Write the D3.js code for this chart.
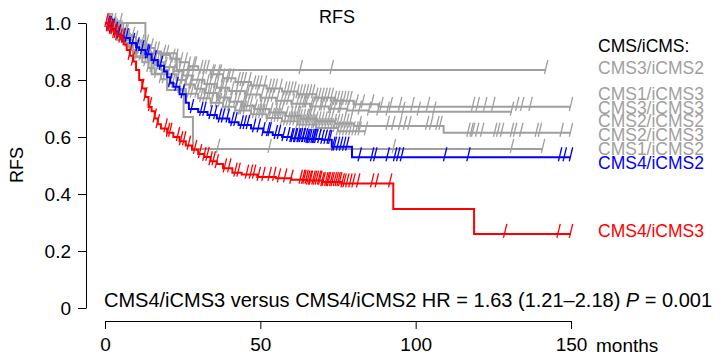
<!DOCTYPE html>
<html><head><meta charset="utf-8">
<script src="https://cdn.jsdelivr.net/npm/d3@7"></script>
<style>body{margin:0;background:#fff}svg{display:block;font-family:"Liberation Sans",Arial,sans-serif}</style>
</head><body><svg id="c" width="723" height="360"></svg>
<script>
// ---- data (months, survival) ----
const groups = ["CMS3/iCMS2","CMS1/iCMS3","CMS3/iCMS3","CMS2/iCMS2","CMS2/iCMS3","CMS1/iCMS2","CMS4/iCMS2","CMS4/iCMS3"];
const xTicks = [0, 50, 100, 150];
const yTicks = [0, 0.2, 0.4, 0.6, 0.8, 1.0];

const g1_t = [0, 13.0, 23.1];
const g1_s = [1.0, 0.894, 0.835];
const g1_end = 142;
const g1_c = [1, 2, 3, 5, 63, 73, 142];

const g2_t = [0, 2, 4, 6, 8, 10, 12, 14, 16, 18, 21, 24, 27, 30, 34, 38, 42, 47, 52, 57, 62, 68, 74, 80, 88];
const g2_s = [1.0, 0.988, 0.976, 0.963, 0.951, 0.938, 0.925, 0.912, 0.9, 0.888, 0.875, 0.862, 0.848, 0.835, 0.82, 0.806, 0.793, 0.781, 0.77, 0.76, 0.75, 0.738, 0.727, 0.715, 0.706];
const g2_end = 150;
const g2_c = [1.5, 3, 4, 5, 6.5, 7, 9, 10, 12, 13.5, 15, 16, 17, 19, 20, 22, 23, 24.5, 26, 27, 28.5, 29, 31, 32, 33, 34.5, 35, 36.5, 37, 38, 39.5, 40, 41, 43, 44, 45, 46.5, 48, 49, 50, 51.5, 53, 54, 55, 56.5, 58, 59, 60, 61, 62, 63, 64, 65, 66, 67, 68, 69, 70, 71, 72, 73, 74, 75, 76, 77, 78, 79, 81, 83, 86, 89, 92, 95, 99, 104, 118.5, 120, 122.4, 125, 132.7, 134.3, 137, 150];

const g3_t = [0, 2, 4, 6, 8, 10, 12, 14, 16, 19, 22, 25, 28, 32, 36, 40, 45, 50, 55, 60, 66, 72, 78, 85];
const g3_s = [1.0, 0.98, 0.962, 0.944, 0.926, 0.908, 0.892, 0.877, 0.862, 0.846, 0.831, 0.816, 0.801, 0.786, 0.773, 0.761, 0.749, 0.738, 0.727, 0.717, 0.707, 0.699, 0.693, 0.689];
const g3_end = 131;
const g3_c = [1, 2, 3.5, 4, 5.5, 6, 8, 9, 11, 12.5, 14, 15.5, 17, 18, 19.5, 21, 22.5, 24, 25, 26.5, 27, 28, 30, 31.5, 33, 34, 35.5, 36, 37.5, 38, 39, 41, 42.5, 44, 45.5, 46, 47, 49, 50.5, 52, 53, 54, 55.5, 57, 58, 59, 60.5, 62, 63, 64, 64.5, 65, 66.5, 67, 68, 69.5, 70, 71, 72.5, 73, 74, 75.5, 76, 78, 80, 82, 85, 88, 91, 96, 101, 106, 131];

const g4_t = [0, 2, 4, 6, 8, 10, 12, 14, 16, 18, 20, 23, 26, 29, 32, 36, 40, 44, 48, 53, 58, 63, 68, 74, 80, 109];
const g4_s = [1.0, 0.985, 0.965, 0.945, 0.925, 0.905, 0.888, 0.868, 0.852, 0.836, 0.82, 0.8, 0.784, 0.769, 0.754, 0.739, 0.724, 0.71, 0.698, 0.686, 0.674, 0.664, 0.655, 0.647, 0.639, 0.615];
const g4_end = 150;
const g4_c = [1, 2, 3, 4.5, 5, 6, 7.5, 8, 10, 11, 12, 13, 14.5, 16, 17.5, 19, 20.5, 22, 23.5, 25, 26, 27.5, 28, 30, 31, 32.5, 34, 35, 36.5, 37, 38.5, 39, 40.5, 42, 43, 44.5, 45, 46, 47, 48.5, 50, 51, 52, 53.5, 55, 56, 57, 58.5, 60, 61, 62, 62.5, 63, 64, 65, 65.5, 66, 67, 68, 69, 70, 71, 72, 73, 74, 75, 76, 77, 78, 79, 82, 91, 92.8, 95, 96.6, 98, 103.7, 105, 107, 108, 117, 118, 118.5, 119.8, 121.4, 125.6, 126.6, 127.8, 131, 132, 134, 139, 140, 147, 150];

const g5_t = [0, 2, 4, 6, 8, 10, 12, 14, 16, 18, 20, 23, 26, 30, 34, 38, 42, 47, 52, 57, 62, 68, 75];
const g5_s = [1.0, 0.978, 0.952, 0.93, 0.905, 0.883, 0.862, 0.842, 0.822, 0.803, 0.787, 0.768, 0.752, 0.736, 0.72, 0.706, 0.693, 0.68, 0.667, 0.655, 0.644, 0.632, 0.62];
const g5_end = 84;
const g5_c = [1, 2, 3, 4, 5.5, 7, 8.5, 10, 11.5, 13, 14, 15, 16.5, 18, 19, 21, 22, 24, 25.5, 27, 28, 29.5, 31, 32, 33, 34.5, 36, 37, 38, 39, 40, 42, 43.5, 44, 45, 47, 48, 49, 50, 51, 52.5, 54, 55, 56, 57, 58, 59, 60, 61, 62, 63, 64, 65, 66, 67, 67.5, 68, 69, 70, 71, 72, 73, 74, 75, 76, 77, 78, 79, 80, 81, 82, 84];

const g6_t = [0, 4, 9, 15, 20, 25.3, 28.3];
const g6_s = [1.0, 0.94, 0.88, 0.82, 0.765, 0.67, 0.558];
const g6_end = 141;
const g6_c = [36.4, 53, 93, 131, 141];

const blue_t = [0, 1, 2, 3, 4, 5, 6, 8, 10, 11, 13, 15, 17, 19, 20, 21, 22, 24, 26, 27, 30, 33, 36, 40, 43, 47, 51, 54, 57, 60, 65, 70, 73, 79.5];
const blue_s = [1.0, 0.99, 0.98, 0.97, 0.96, 0.955, 0.947, 0.93, 0.915, 0.905, 0.89, 0.87, 0.85, 0.83, 0.81, 0.79, 0.776, 0.75, 0.72, 0.698, 0.688, 0.677, 0.665, 0.652, 0.642, 0.63, 0.617, 0.607, 0.6, 0.596, 0.593, 0.59, 0.566, 0.529];
const blue_end = 150;
const blue_c = [1, 1.5, 2, 2.5, 3.5, 4.5, 6, 7, 9, 10.5, 12, 13.5, 14, 16, 18, 21, 23, 25, 28, 31, 32, 34, 35.5, 37, 38, 39.5, 41, 42, 44, 45, 46, 48, 49.5, 51, 52.5, 53, 55, 56, 57.5, 59, 60, 60.4, 61.2, 61.5, 62.3, 62.6, 63.1, 63.8, 64, 64.7, 65.2, 65.6, 66.1, 66.8, 67.3, 67.5, 68, 69, 70, 71, 72, 72.5, 73.5, 74, 75, 76, 77, 78, 82, 86, 87, 91, 93.4, 94.4, 95.6, 109.5, 117, 146.5, 148, 150];

const red_t = [0, 1, 2, 3, 4, 5, 6, 7, 8, 9, 10, 11, 12, 13, 14, 15, 16, 17, 18, 20, 22, 24, 26, 28, 30, 32, 34, 36, 38, 41, 44, 49, 55, 60, 65, 70, 76, 92.8, 118.8];
const red_s = [1.0, 0.985, 0.975, 0.962, 0.955, 0.945, 0.925, 0.905, 0.885, 0.865, 0.835, 0.80, 0.77, 0.74, 0.705, 0.69, 0.665, 0.645, 0.63, 0.615, 0.6, 0.585, 0.57, 0.555, 0.54, 0.53, 0.515, 0.505, 0.49, 0.475, 0.468, 0.46, 0.455, 0.45, 0.447, 0.442, 0.437, 0.347, 0.26];
const red_end = 150;
const red_c = [0.5, 1, 1.5, 2, 2.5, 3, 3.5, 4, 5, 5.8, 8, 9, 12, 13, 14.5, 16, 17, 19.5, 20.3, 21, 23.5, 24.5, 25.5, 27, 29, 30.6, 32, 33, 34, 35, 36, 38.6, 40, 42, 43, 45.7, 47, 48, 49.5, 51, 53, 54.5, 56, 58, 60, 63, 63.8, 64.2, 64.9, 65.4, 66, 66.3, 67.1, 67.6, 68.2, 68.9, 69.3, 70, 70.4, 71.2, 71.7, 72.1, 72.8, 73.3, 74, 74.6, 75.2, 75.7, 76.5, 77.1, 78, 79, 80, 81.5, 86, 87.5, 91.8, 128.8, 146, 150];

const legendLabels = ["CMS3/iCMS2","CMS1/iCMS3","CMS3/iCMS3","CMS2/iCMS2","CMS2/iCMS3","CMS1/iCMS2","CMS4/iCMS2","CMS4/iCMS3"];

// ---- drawing ----
const GRAY = "#9f9f9f", BLUE = "#0000ff", RED = "#ff0000";
const series = [
  {t:g1_t, s:g1_s, end:g1_end, c:g1_c, col:GRAY},
  {t:g6_t, s:g6_s, end:g6_end, c:g6_c, col:GRAY},
  {t:g5_t, s:g5_s, end:g5_end, c:g5_c, col:GRAY},
  {t:g4_t, s:g4_s, end:g4_end, c:g4_c, col:GRAY},
  {t:g3_t, s:g3_s, end:g3_end, c:g3_c, col:GRAY},
  {t:g2_t, s:g2_s, end:g2_end, c:g2_c, col:GRAY},
  {t:blue_t, s:blue_s, end:blue_end, c:blue_c, col:BLUE},
  {t:red_t, s:red_s, end:red_end, c:red_c, col:RED}
];

const svg = d3.select("#c");
const x = d3.scaleLinear().domain([0,150]).range([105,571]);
const y = d3.scaleLinear().domain([0,1]).range([308,23]);

const line = d3.line().x(d=>x(d[0])).y(d=>y(d[1])).curve(d3.curveStepAfter);
function survAt(sr, tt){ let v=sr.s[0]; for(let i=0;i<sr.t.length;i++){ if(sr.t[i]<=tt) v=sr.s[i]; } return v; }

series.forEach(sr=>{
  const pts = sr.t.map((t,i)=>[t, sr.s[i]]);
  pts.push([sr.end, sr.s[sr.s.length-1]]);
  svg.append("path").attr("d", line(pts)).attr("fill","none").attr("stroke", sr.col).attr("stroke-width", 2);
  svg.append("g").selectAll("line").data(sr.c).join("line")
    .attr("x1", d=>x(d)-1.7).attr("y1", d=>y(survAt(sr,d))+4)
    .attr("x2", d=>x(d)+1.7).attr("y2", d=>y(survAt(sr,d))-10)
    .attr("stroke", sr.col).attr("stroke-width", 1.3);
});

// axes
const ya = svg.append("g").attr("transform","translate(86,0)")
  .call(d3.axisLeft(y).tickValues(yTicks).tickSize(8).tickSizeOuter(0).tickPadding(7)
        .tickFormat(d=> d===0 ? "0" : d3.format(".1f")(d)));
ya.selectAll("text").attr("font-size",19).attr("font-family","Liberation Sans, Arial, sans-serif").attr("fill","#000");
ya.selectAll("line,path").attr("stroke","#000");

const xa = svg.append("g").attr("transform","translate(0,321)")
  .call(d3.axisBottom(x).tickValues(xTicks).tickSize(8).tickSizeOuter(0).tickPadding(9).tickFormat(d3.format("d")));
xa.selectAll("text").attr("font-size",19).attr("font-family","Liberation Sans, Arial, sans-serif").attr("fill","#000");
xa.selectAll("line,path").attr("stroke","#000");
svg.append("text").attr("x",596).attr("y",352).attr("font-size",19).text("months");

// titles
svg.append("text").attr("x",337).attr("y",23).attr("text-anchor","middle").attr("font-size",18).text("RFS");
svg.append("text").attr("transform","translate(23,165) rotate(-90)").attr("text-anchor","middle").attr("font-size",18).text("RFS");

// legend
const legY = [68, 94, 107.5, 121, 135, 149, 163, 231];
const legCol = [GRAY,GRAY,GRAY,GRAY,GRAY,GRAY,BLUE,RED];
svg.append("text").attr("x",598).attr("y",52).attr("font-size",17.5).text("CMS/iCMS:");
svg.append("g").selectAll("text").data(legendLabels).join("text")
  .attr("x",598).attr("y",(d,i)=>legY[i]+6).attr("font-size",17.5)
  .attr("fill",(d,i)=>legCol[i]).text(d=>d);

// bottom annotation
const ann = svg.append("text").attr("x",104).attr("y",307).attr("font-size",20);
ann.append("tspan").text("CMS4/iCMS3 versus CMS4/iCMS2 HR = 1.63 (1.21\u20132.18) ");
ann.append("tspan").attr("font-style","italic").text("P");
ann.append("tspan").text(" = 0.001");
</script></body></html>
